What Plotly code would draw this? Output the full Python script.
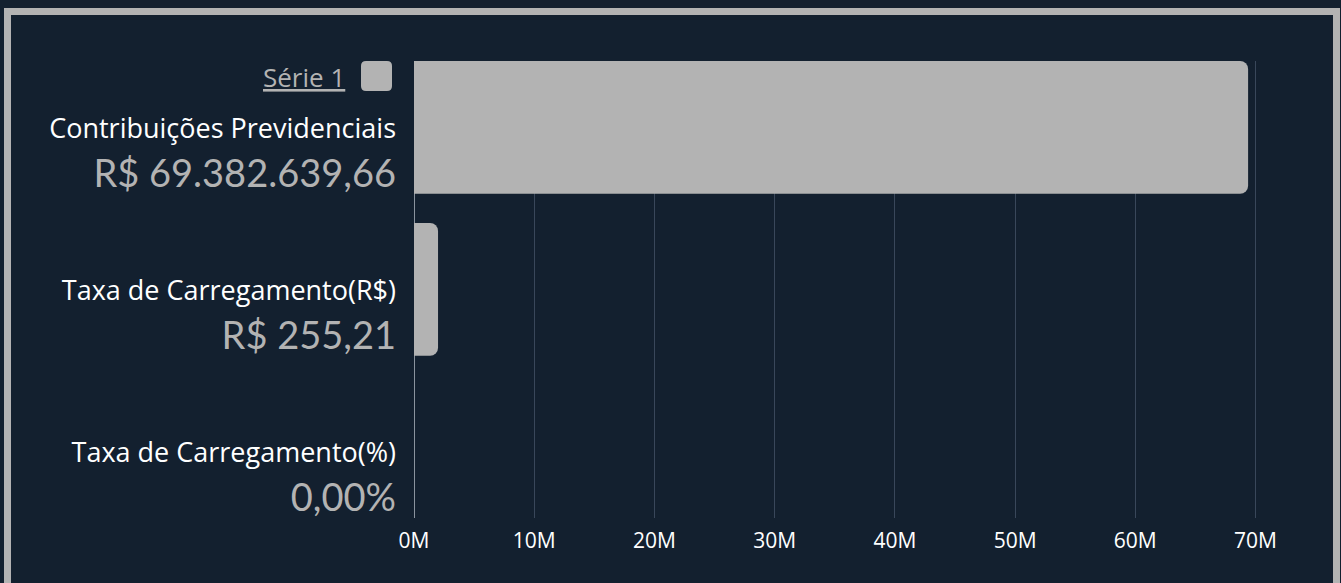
import plotly.graph_objects as go

# ---------------- data ----------------
categories = ["Contribuições Previdenciais", "Taxa de Carregamento(R$)", "Taxa de Carregamento(%)"]
values = [69382639.66, 255.21, 0.0]
value_labels = ["R$ 69.382.639,66", "R$ 255,21", "0,00%"]
series_name = "Série 1"
x_tick_values = [0, 10e6, 20e6, 30e6, 40e6, 50e6, 60e6, 70e6]
x_tick_labels = ["0M", "10M", "20M", "30M", "40M", "50M", "60M", "70M"]

# the original chart renders any non-zero bar with a minimum visible length
MIN_VISIBLE = 2.0e6
bar_lengths = [max(v, MIN_VISIBLE) if v > 0 else 0 for v in values]

# ---------------- style ----------------
BG = "#13202f"
BAR = "#b3b3b3"
GRID = "#39475a"
FONT = "Open Sans"
VFONT = "Lato"

W, H = 1341, 583
ML, MR, MT, MB = 414, 41, 61, 65
PW, PH = W - ML - MR, H - MT - MB

def px_x(p):
    return (p - ML) / PW

def px_y(p):
    return (H - MB - p) / PH

tick_text = [
    f"<span style='font-family:\"{FONT}\";font-size:27px;color:#ffffff'>{c}</span><br>{v}"
    for c, v in zip(categories, value_labels)
]

fig = go.Figure()
fig.add_trace(go.Bar(
    y=categories,
    x=bar_lengths,
    orientation="h",
    name=series_name,
    marker=dict(color=BAR, cornerradius=8, line=dict(width=0)),
    width=0.82,
    customdata=value_labels,
    hovertemplate="%{y}<br>%{customdata}<extra></extra>",
    showlegend=False,
))

fig.update_layout(
    width=W, height=H,
    margin=dict(l=ML, r=MR, t=MT, b=MB),
    paper_bgcolor=BG, plot_bgcolor=BG,
    font=dict(family=FONT, color="#ffffff"),
    xaxis=dict(
        range=[0, 73.7e6],
        tickvals=x_tick_values, ticktext=x_tick_labels,
        tickfont=dict(family=FONT, size=21, color="#ffffff"),
        showgrid=True, gridcolor=GRID, gridwidth=1,
        zeroline=True, zerolinecolor="#8a939e", zerolinewidth=1,
        showline=False, ticks="", ticklabelstandoff=8,
        fixedrange=True,
    ),
    yaxis=dict(
        type="category",
        categoryorder="array", categoryarray=categories,
        range=[2.411, -0.41],
        tickvals=categories, ticktext=tick_text,
        tickfont=dict(family=VFONT, size=38, color=BAR),
        showgrid=False, zeroline=False, showline=False, ticks="",
        ticklabelstandoff=17, ticklabelshift=-22,
        fixedrange=True,
    ),
    bargap=0.18,
)

# legend (text + rounded swatch), placed like the original
fig.add_annotation(
    xref="paper", yref="paper", x=px_x(347), y=px_y(77),
    xanchor="right", yanchor="middle", showarrow=False,
    text=f"<u>{series_name}</u>",
    font=dict(family=FONT, size=26, color=BAR),
)
fig.add_shape(
    type="path", xref="paper", yref="paper",
    xsizemode="pixel", ysizemode="pixel",
    xanchor=0, yanchor=1,
    path="M -48 0 L -27 0 Q -22 0 -22 -5 L -22 -25 Q -22 -30 -27 -30 L -48 -30 Q -53 -30 -53 -25 L -53 -5 Q -53 0 -48 0 Z",
    fillcolor=BAR, line=dict(width=0),
)

# outer frame
fig.add_shape(
    type="rect", xref="paper", yref="paper",
    x0=px_x(7.5), x1=px_x(1336.5), y0=px_y(620), y1=px_y(11.5),
    line=dict(color=BAR, width=7), fillcolor="rgba(0,0,0,0)", layer="above",
)

fig.write_html("out.html")
